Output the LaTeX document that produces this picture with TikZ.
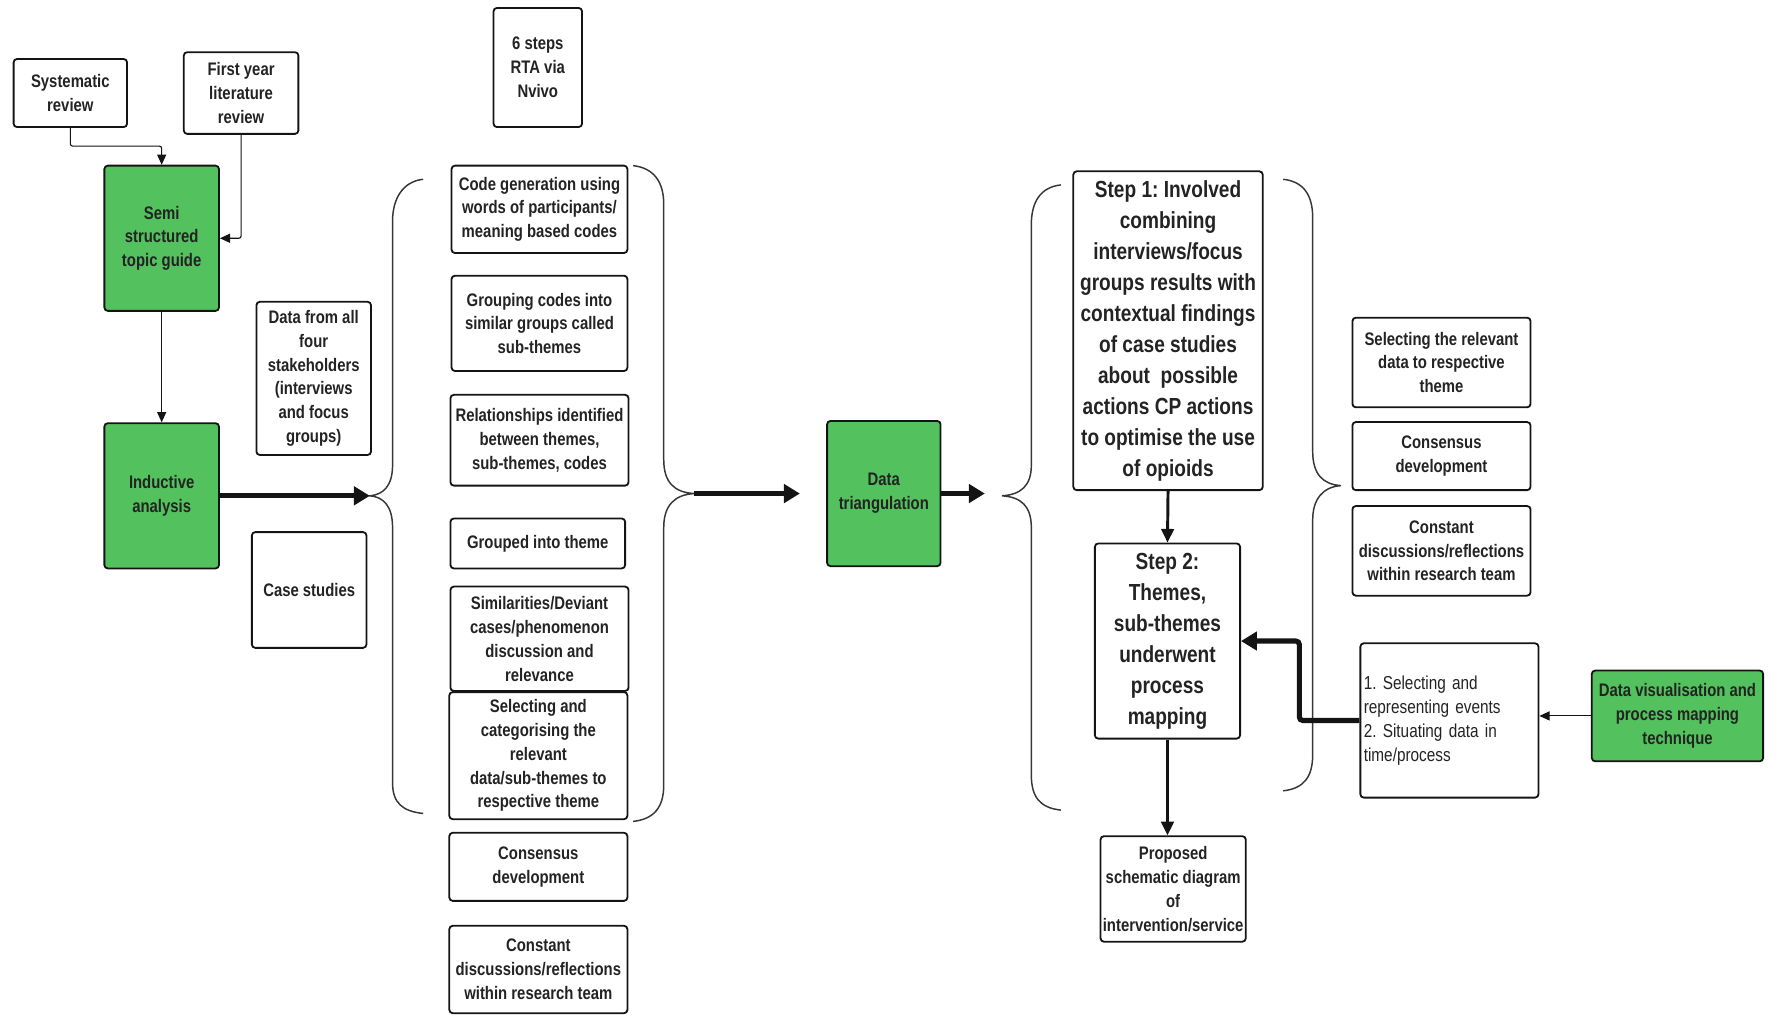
\documentclass[tikz,border=0pt]{standalone}
\usepackage{fontspec}
\setmainfont[FakeStretch=0.82]{Liberation Sans}
\usetikzlibrary{arrows.meta}
\definecolor{boxgreen}{RGB}{83,194,94}
\definecolor{txt}{RGB}{35,35,35}
\definecolor{ink}{RGB}{20,20,20}
\frenchspacing
\tikzset{
  box/.style={draw=ink, line width=1.6pt, rounded corners=3pt, align=center,
    inner sep=0pt, text=txt, font=\bfseries\fontsize{16}{21}\selectfont},
  greenbox/.style={box, fill=boxgreen},
  bigbox/.style={box, font=\bfseries\fontsize{20.5}{27.3}\selectfont},
  plainbox/.style={box, font=\fontsize{16.5}{21.3}\selectfont, align=left,
    inner xsep=3pt, inner ysep=0pt},
  thinarrow/.style={draw=ink, line width=1pt, -{Triangle[length=9pt,width=8pt]}},
  midarrow/.style={draw=ink, line width=2.6pt, -{Triangle[length=12pt,width=11pt]}},
  thickarrow/.style={draw=ink, line width=4.5pt, -{Triangle[length=14pt,width=16pt]}},
  bracket/.style={draw=ink!85, line width=1.3pt}
}
\begin{document}
\begin{tikzpicture}[x=1pt,y=-1pt]
\useasboundingbox (0,0) rectangle (1568,895);

% inputs and first analysis stage
\node[box, minimum width=100pt, minimum height=60pt] (sys) at (62,82) {Systematic\\review};
\node[box, minimum width=101pt, minimum height=72pt] (fyr) at (212.5,82) {First year\\literature\\review};
\node[box, minimum width=78pt, minimum height=105pt] (six) at (474,59.5) {6 steps\\RTA via\\Nvivo};
\node[greenbox, minimum width=101pt, minimum height=128pt] (semi) at (142.5,210) {Semi\\structured\\topic guide};
\node[greenbox, minimum width=101pt, minimum height=128pt] (ind) at (142.5,437) {Inductive\\analysis};
\node[box, minimum width=101pt, minimum height=135pt] (dat) at (276.5,333.5) {Data from all\\four\\stakeholders\\(interviews\\and focus\\groups)};
\node[box, minimum width=101pt, minimum height=102pt] (case) at (272.5,520) {Case studies};

% thematic analysis steps
\node[box, minimum width=155pt, minimum height=77pt] (code) at (475.5,184.5) {Code generation using\\words of participants/\\meaning based codes};
\node[box, minimum width=155pt, minimum height=84pt] (grp) at (475.5,285) {Grouping codes into\\similar groups called\\sub-themes};
\node[box, minimum width=157pt, minimum height=80pt] (rel) at (475.5,388) {Relationships identified\\between themes,\\sub-themes, codes};
\node[box, minimum width=154pt, minimum height=44pt] (gth) at (474,479) {Grouped into theme};
\node[box, minimum width=157pt, minimum height=92pt] (sim) at (475.5,563) {Similarities/Deviant\\cases/phenomenon\\discussion and\\relevance};
\node[box, minimum width=157pt, minimum height=112pt] (selc) at (474.5,666) {Selecting and\\categorising the\\relevant\\data/sub-themes to\\respective theme};
\node[box, minimum width=157pt, minimum height=60pt] (consa) at (474.5,764) {Consensus\\development};
\node[box, minimum width=157pt, minimum height=77pt] (consta) at (474.5,854.5) {Constant\\discussions/reflections\\within research team};

% triangulation and process mapping
\node[greenbox, minimum width=100pt, minimum height=128pt] (tri) at (779,435) {Data\\triangulation};
\node[bigbox, minimum width=167pt, minimum height=281pt] (stepa) at (1029.5,291.5) {Step 1: Involved\\combining\\interviews/focus\\groups results with\\contextual findings\\of case studies\\about\ \ possible\\actions CP actions\\to optimise the use\\of opioids};
\node[bigbox, minimum width=128pt, minimum height=172pt] (stepb) at (1029,565) {Step 2:\\Themes,\\sub-themes\\underwent\\process\\mapping};
\node[box, minimum width=128pt, minimum height=93pt] (prop) at (1034,783.5) {Proposed\\schematic diagram\\of\\intervention/service};
\node[box, minimum width=157pt, minimum height=79pt] (selr) at (1270.5,319.5) {Selecting the relevant\\data to respective\\theme};
\node[box, minimum width=157pt, minimum height=60pt] (consb) at (1270.5,402) {Consensus\\development};
\node[box, minimum width=157pt, minimum height=79pt] (constb) at (1270.5,485.5) {Constant\\discussions/reflections\\within research team};
\node[plainbox, text width=151pt, minimum height=136pt] (evt) at (1277.5,635) {1. Selecting and\\representing events\\2. Situating data in\\time/process};
\node[greenbox, minimum width=151pt, minimum height=80pt] (viz) at (1478.5,631) {Data visualisation and\\process mapping\\technique};

% brace tips and free arrow ends
\coordinate (tipa) at (326,437);
\coordinate (tipb) at (612,435);
\coordinate (tipc) at (883,437);
\coordinate (tipd) at (1182,428);
\coordinate (enda) at (705,435);
\coordinate (endb) at (868,435);

% curly braces
\draw[bracket] (373,158) .. controls (355,160) and (346,175) .. (346,195) -- (346,410)
  .. controls (346,428) and (338,436) .. (tipa) .. controls (338,438) and (346,446) .. (346,465)
  -- (346,690) .. controls (346,708) and (355,715) .. (373,717);
\draw[bracket] (558,146) .. controls (576,148) and (585,160) .. (585,180) -- (585,405)
  .. controls (585,425) and (594,434) .. (tipb) .. controls (594,436) and (585,446) .. (585,465)
  -- (585,692) .. controls (585,712) and (576,722) .. (558,724);
\draw[bracket] (935,163) .. controls (917,165) and (909,178) .. (909,198) -- (909,410)
  .. controls (909,428) and (900,436) .. (tipc) .. controls (900,438) and (909,446) .. (909,465)
  -- (909,683) .. controls (909,703) and (917,712) .. (935,714);
\draw[bracket] (1131,158) .. controls (1149,160) and (1157,172) .. (1157,192) -- (1157,398)
  .. controls (1157,418) and (1166,427) .. (tipd) .. controls (1166,429) and (1157,440) .. (1157,458)
  -- (1157,665) .. controls (1157,685) and (1149,695) .. (1131,697);

% connectors
\draw[thinarrow, rounded corners=2pt] (sys.south) -- ++(0,16) -| (semi.north);
\draw[thinarrow, rounded corners=2pt] (fyr.south) |- (semi.east);
\draw[thinarrow] (semi.south) -- (ind.north);
\draw[thickarrow] (ind.east) -- (tipa);
\draw[thickarrow] (tipb) -- (enda);
\draw[thickarrow] (tri.east) -- (endb);
\draw[midarrow] (stepa.south) -- (stepb.north);
\draw[midarrow] (stepb.south) -- (stepb.south |- prop.north);
\draw[thickarrow, rounded corners=3pt] (evt.west) -- ++(-53,0) |- (stepb.east);
\draw[thinarrow] (viz.west) -- (viz.west -| evt.east);
\end{tikzpicture}
\end{document}
